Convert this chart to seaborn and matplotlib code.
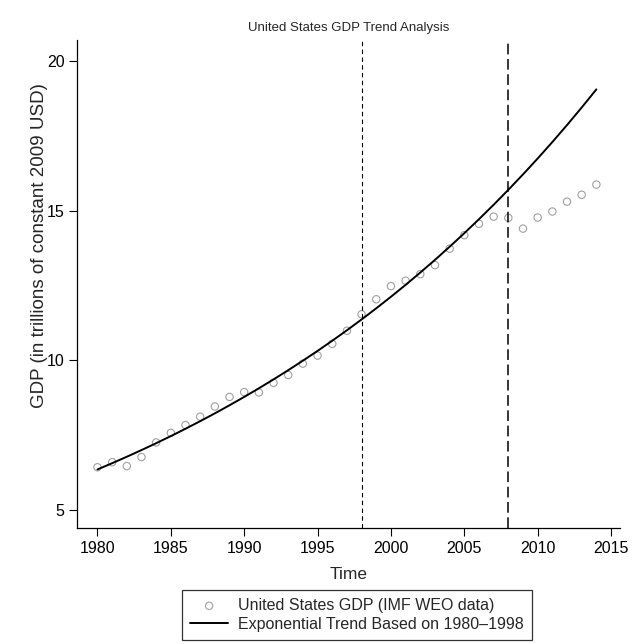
import numpy as np
import pandas as pd
import matplotlib
matplotlib.use('Agg')
import matplotlib.pyplot as plt
import seaborn as sns

# dados (trilhoes de USD constantes de 2009)
years = list(range(1980, 2015))
gdp = [6.43, 6.60, 6.47, 6.77, 7.26, 7.58, 7.84, 8.12, 8.46, 8.78,
       8.94, 8.93, 9.25, 9.51, 9.89, 10.16, 10.55, 10.99, 11.54, 12.04,
       12.48, 12.66, 12.88, 13.18, 13.73, 14.18, 14.56, 14.80, 14.76, 14.40,
       14.77, 14.97, 15.30, 15.53, 15.87]
fit_start, fit_end = 1980, 1998
vlines = [1998, 2008]

df = pd.DataFrame({'Year': years, 'GDP': gdp})

# tendencia exponencial ajustada em 1980-1998
base = df[(df['Year'] >= fit_start) & (df['Year'] <= fit_end)]
b, a = np.polyfit(base['Year'], np.log(base['GDP']), 1)
df['Trend'] = np.exp(a + b * df['Year'])

sns.set_style('ticks')
plt.rcParams['font.family'] = ['Liberation Sans', 'DejaVu Sans']

fig = plt.figure(figsize=(6.41, 6.44), dpi=100)
ax = fig.add_axes([0.120, 0.180, 0.847, 0.758])

sns.scatterplot(data=df, x='Year', y='GDP', ax=ax, marker='o', s=28,
                facecolor='none', edgecolor='#a0a0a0', linewidth=0.8,
                label='United States GDP (IMF WEO data)')
sns.lineplot(data=df, x='Year', y='Trend', ax=ax, color='black', linewidth=1.4,
             label='Exponential Trend Based on 1980\u20131998')

ax.axvline(vlines[0], color='black', linewidth=0.8, dashes=(4, 3))
ax.axvline(vlines[1], color='black', linewidth=1.1, dashes=(7, 3))

ax.set_xlim(1978.6, 2015.6)
ax.set_ylim(4.4, 20.7)
ax.set_xticks(range(1980, 2016, 5))
ax.set_yticks([5, 10, 15, 20])
ax.tick_params(axis='both', labelsize=11.5, length=6, width=0.8, colors='black', pad=3)
for s in ['left', 'bottom']:
    ax.spines[s].set_color('black')
    ax.spines[s].set_linewidth(0.9)
sns.despine(ax=ax)

ax.set_title('United States GDP Trend Analysis', fontsize=9.5, pad=6.5)
ax.set_xlabel('Time', fontsize=12.5, labelpad=8)
ax.set_ylabel('GDP (in trillions of constant 2009 USD)', fontsize=13.5)
ax.yaxis.set_label_coords(-0.053, 0.578)

ax.legend_.remove()
handles, labels = ax.get_legend_handles_labels()
leg = fig.legend(handles, labels, loc='upper left', bbox_to_anchor=(182 / 641, 1 - 590 / 644),
                 bbox_transform=fig.transFigure, fontsize=11.5, frameon=True,
                 fancybox=False, edgecolor='black', handlelength=2.4,
                 borderpad=0.5, labelspacing=0.25, handletextpad=0.6, borderaxespad=0)
leg.get_frame().set_linewidth(0.9)

fig.savefig('out.png', dpi=100)
